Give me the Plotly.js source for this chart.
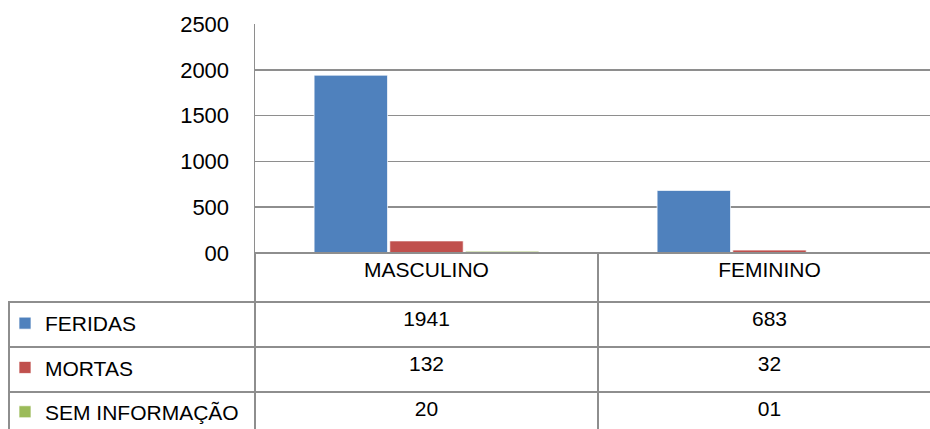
<!DOCTYPE html>
<html>
<head>
<meta charset="utf-8">
<script src="https://cdn.plot.ly/plotly-3.0.1.min.js"></script>
<style>html,body{margin:0;padding:0;background:#fff;overflow:hidden;}#chart{width:941px;height:437px;}</style>
</head>
<body>
<div id="chart"></div>
<script>
// ---- data ----
const categories = ["MASCULINO", "FEMININO"];
const seriesNames = ["FERIDAS", "MORTAS", "SEM INFORMAÇÃO"];
const feridas = [1941, 683];
const mortas = [132, 32];
const semInformacao = [20, 1];
const feridasLabels = ["1941", "683"];
const mortasLabels = ["132", "32"];
const semInformacaoLabels = ["20", "01"];
const yTickVals = [0, 500, 1000, 1500, 2000, 2500];
const yTickText = ["00", "500", "1000", "1500", "2000", "2500"];
const seriesColors = ["#4F81BD", "#C0504D", "#9BBB59"];

const FONT = "'Liberation Sans', Arial, sans-serif";
const GRID = "#8E8E8E";
// the chart runs slightly past the right and bottom edges of the 930x429 view, as in the original crop
const W = 941, H = 437;
const plotLeft = 255, plotTop = 24, plotBottom = 253;
const TXT = 21;

const seriesValues = [feridas, mortas, semInformacao];
const seriesLabels = [feridasLabels, mortasLabels, semInformacaoLabels];

const traces = seriesNames.map((name, i) => ({
  type: "bar",
  name: name,
  x: categories,
  y: seriesValues[i],
  marker: { color: seriesColors[i], line: { color: "rgba(255,255,255,0.7)", width: 1 } },
  legendgroup: "g" + i,
  showlegend: true,
  hoverinfo: "x+y+name"
}));

traces.push({
  type: "table",
  domain: { x: [9 / W, 1], y: [0, (H - plotBottom) / H] },
  columnwidth: [246, 343, 343],
  header: {
    values: [""].concat(categories),
    align: ["left", "center", "center"],
    height: 49,
    fill: { color: ["rgba(0,0,0,0)", "white", "white"] },
    line: { color: ["rgba(0,0,0,0)", GRID, GRID], width: 1.5 },
    font: { family: FONT, size: TXT, color: "#000" }
  },
  cells: {
    values: [seriesNames.map(() => ""), seriesLabels.map(l => l[0]), seriesLabels.map(l => l[1])],
    align: ["left", "center", "center"],
    height: 45,
    fill: { color: ["rgba(0,0,0,0)", "white", "white"] },
    line: { color: GRID, width: 1.5 },
    font: { family: FONT, size: TXT, color: "#000" }
  }
});

const layout = {
  width: W, height: H,
  margin: { l: 0, r: 0, t: 0, b: 0, autoexpand: false },
  paper_bgcolor: "white",
  plot_bgcolor: "white",
  showlegend: true,
  legend: {
    x: 5 / W, xanchor: "left",
    y: (H - 303) / H, yanchor: "top",
    traceorder: "grouped",
    tracegroupgap: 14,
    bgcolor: "rgba(0,0,0,0)",
    borderwidth: 0,
    font: { family: FONT, size: TXT, color: "#000" },
    itemclick: false, itemdoubleclick: false
  },
  barmode: "group",
  bargap: 0.338,
  bargroupgap: 0.03,
  font: { family: FONT, size: TXT, color: "#000" },
  xaxis: {
    domain: [plotLeft / W, 1],
    showticklabels: false,
    ticks: "",
    showgrid: false,
    showline: true,
    linecolor: GRID,
    linewidth: 1.5,
    fixedrange: true
  },
  yaxis: {
    domain: [(H - plotBottom) / H, (H - plotTop) / H],
    range: [0, 2500],
    tickvals: yTickVals,
    ticktext: yTickText,
    tickfont: { family: FONT, size: 22, color: "#000" },
    ticks: "",
    ticklabelstandoff: 20,
    showgrid: true,
    gridcolor: GRID,
    gridwidth: 1.5,
    zeroline: false,
    showline: true,
    linecolor: GRID,
    linewidth: 1.5,
    fixedrange: true
  }
};

Plotly.newPlot("chart", traces, layout, { displayModeBar: false, staticPlot: true });
</script>
</body>
</html>
